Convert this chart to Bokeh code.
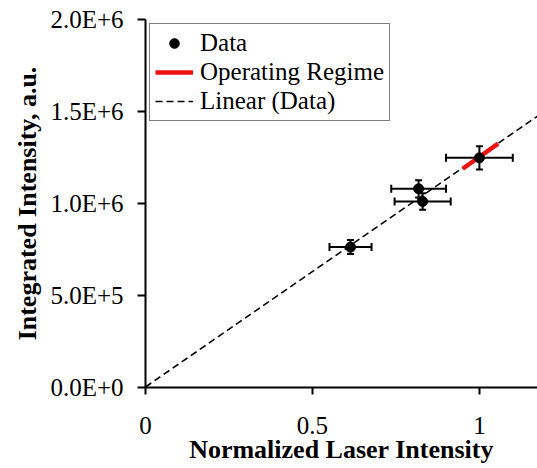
import numpy as np
from bokeh.plotting import figure
from bokeh.models import (Range1d, FixedTicker, Whisker, TeeHead, ColumnDataSource,
                          Legend, LegendItem)
from bokeh.embed import file_html
from bokeh.resources import INLINE

# ---- data ----
laser = [0.614, 0.818, 0.830, 1.000]
intensity = [0.763e6, 1.080e6, 1.011e6, 1.248e6]
laser_err = [0.063, 0.082, 0.084, 0.100]
intensity_err = [0.038e6, 0.047e6, 0.045e6, 0.063e6]

op_x = [0.950, 1.056]
op_y = [1.189e6, 1.325e6]

x_ticks = [0, 0.5, 1]
x_tick_labels = ["0", "0.5", "1"]
y_ticks = [0, 500000, 1000000, 1500000, 2000000]
y_tick_labels = ["0.0E+0", "5.0E+5", "1.0E+6", "1.5E+6", "2.0E+6"]

FONT = "Liberation Serif"

# linear trendline fitted to the data
slope, intercept = np.polyfit(laser, intensity, 1)
trend_x = np.array([0.0, 1.25])
trend_y = slope * trend_x + intercept

p = figure(width=537, height=468, output_backend="svg", toolbar_location=None,
           x_range=Range1d(0, 1.174), y_range=Range1d(0, 2.0e6),
           min_border_left=145, min_border_right=0, min_border_top=19,
           min_border_bottom=81)
p.outline_line_color = None
p.xgrid.grid_line_color = None
p.ygrid.grid_line_color = None
p.background_fill_color = "white"

# axes
for ax in (p.xaxis[0], p.yaxis[0]):
    ax.axis_line_width = 2
    ax.axis_line_color = "black"
    ax.major_tick_line_width = 2
    ax.major_tick_line_color = "black"
    ax.major_tick_in = 0
    ax.minor_tick_line_color = None
    ax.major_label_text_font = FONT
    ax.major_label_text_font_size = "25px"
    ax.major_label_text_color = "black"
    ax.axis_label_text_font = FONT
    ax.axis_label_text_font_style = "bold"
    ax.axis_label_text_font_size = "26px"
    ax.axis_label_text_color = "black"

p.xaxis[0].ticker = FixedTicker(ticks=x_ticks)
p.xaxis[0].major_label_overrides = {t: l for t, l in zip(x_ticks, x_tick_labels)}
p.xaxis[0].major_tick_out = 7
p.xaxis[0].major_label_standoff = 22
p.xaxis[0].axis_label = "Normalized Laser Intensity"
p.xaxis[0].axis_label_standoff = -2

p.yaxis[0].ticker = FixedTicker(ticks=y_ticks)
p.yaxis[0].major_label_overrides = {t: l for t, l in zip(y_ticks, y_tick_labels)}
p.yaxis[0].major_tick_out = 8
p.yaxis[0].major_label_standoff = 14
p.yaxis[0].axis_label = "Integrated Intensity, a.u."
p.yaxis[0].axis_label_standoff = 5

# trend line
trend = p.line(trend_x, trend_y, line_color="black", line_width=1.6, line_dash="7 4")
# operating regime
op = p.line(op_x, op_y, line_color="#ee1111", line_width=4.5)

src = ColumnDataSource(dict(
    x=laser, y=intensity,
    xl=[a - b for a, b in zip(laser, laser_err)],
    xu=[a + b for a, b in zip(laser, laser_err)],
    yl=[a - b for a, b in zip(intensity, intensity_err)],
    yu=[a + b for a, b in zip(intensity, intensity_err)],
))

wx = Whisker(source=src, base="y", lower="xl", upper="xu", dimension="width",
             line_color="black", line_width=2,
             lower_head=TeeHead(size=8, line_width=2, line_color="black"),
             upper_head=TeeHead(size=8, line_width=2, line_color="black"))
wy = Whisker(source=src, base="x", lower="yl", upper="yu", dimension="height",
             line_color="black", line_width=2,
             lower_head=TeeHead(size=7, line_width=2, line_color="black"),
             upper_head=TeeHead(size=7, line_width=2, line_color="black"))
wx.level = "glyph"
wy.level = "glyph"
p.add_layout(wx)
p.add_layout(wy)

pts = p.scatter("x", "y", source=src, size=10, marker="circle",
                fill_color="black", line_color="black")

legend = Legend(items=[
    LegendItem(label="Data", renderers=[pts]),
    LegendItem(label="Operating Regime", renderers=[op]),
    LegendItem(label="Linear (Data)", renderers=[trend]),
], location="top_left")
legend.margin = 4
legend.padding = 5
legend.spacing = 1
legend.glyph_width = 38
legend.glyph_height = 24
legend.label_standoff = 7
legend.label_text_font = FONT
legend.label_text_font_size = "25px"
legend.label_text_color = "black"
legend.border_line_color = "black"
legend.border_line_width = 1
legend.background_fill_color = "white"
legend.background_fill_alpha = 1.0
p.add_layout(legend)

open("out.html", "w").write(file_html(p, INLINE))
